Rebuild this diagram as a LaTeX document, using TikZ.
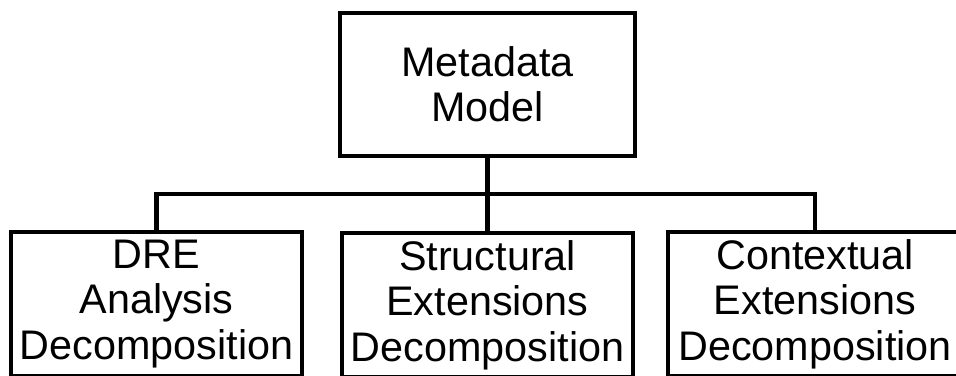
\documentclass[tikz,border=0pt]{standalone}
\usepackage{fontspec}
\setmainfont{Liberation Sans}
\tikzset{
  box/.style={draw, line width=2.8pt, minimum width=218pt, minimum height=108pt,
    align=center, font=\fontsize{31}{34}\selectfont, inner sep=0pt},
  conn/.style={line width=3.6pt}
}
\begin{document}
\begin{tikzpicture}[x=0.75pt,y=0.75pt,yscale=-1,xscale=1]
%set diagram area to 956 x 375
\useasboundingbox (0,0) rectangle (956,375);
\clip (0,0) rectangle (956,375);

%Shape: Rectangle top
\node [box, minimum width=221pt, minimum height=107pt] (meta) at (487.5,84.5) {Metadata\\Model};

%Shape: Rectangle bottom row
\node [box] (dre) at (156.5,304) {DRE\\Analysis\\Decomposition};
\node [box] (struct) at (487.5,305) {Structural\\Extensions\\Decomposition};
\node [box, minimum width=220pt] (ctx) at (815,304) {Contextual\\Extensions\\Decomposition};

%Straight Lines
\coordinate (bar) at (487.5,194);
\draw [conn] (meta.south) -- (bar);
\draw [conn] (dre.north) |- (bar) -| (ctx.north);
\draw [conn] (bar) -- (struct.north);

\end{tikzpicture}
\end{document}
